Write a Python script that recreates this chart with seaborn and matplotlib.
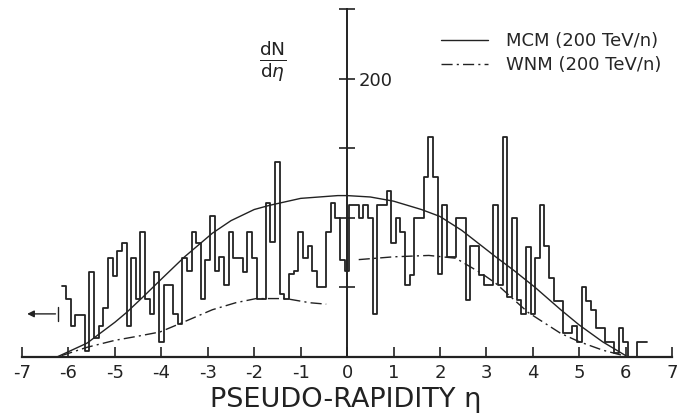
import numpy as np
import pandas as pd
import matplotlib
matplotlib.use("Agg")
import matplotlib.pyplot as plt
import seaborn as sns
from matplotlib.lines import Line2D

sns.set_style("white")
plt.rcParams['font.family'] = ['DejaVu Sans']
plt.rcParams['axes.unicode_minus'] = False

# ---------------- data ----------------
bin_start = -6.15
bin_width = 0.1
counts = [51, 42, 22, 30, 30, 4, 61, 14, 22, 35,
          71, 58, 76, 82, 22, 71, 42, 90, 42, 31,
          61, 11, 52, 52, 31, 24, 71, 62, 90, 82,
          42, 70, 101, 62, 72, 52, 90, 71, 71, 61,
          90, 71, 42, 42, 111, 83, 140, 45, 42, 60,
          62, 90, 71, 80, 62, 50, 50, 90, 111, 100,
          70, 62,
          109, 109, 100, 109, 100, 31, 109, 109, 119, 82,
          100, 90, 52, 59, 100, 100, 129, 158, 129, 60,
          109, 72, 72, 100, 100, 41, 80, 80, 59, 52,
          52, 109, 52, 158, 43, 100, 41, 31, 79, 31,
          71, 109, 80, 57, 40, 40, 17, 17, 22, 11,
          50, 40, 34, 21, 21, 11, 11, 3, 21, 11,
          0, 0, 11, 11]

mcm_eta = [-6.25, -5.6, -5.0, -4.75, -4.4, -4.0, -3.5, -2.9, -2.5, -2.0, -1.67,
           -1.0, -0.2, 0.0, 0.5, 1.0, 1.6, 2.0, 2.47, 3.2, 3.6, 4.05, 4.6,
           5.0, 5.5, 6.0]
mcm_val = [0, 10, 25, 32, 43, 56, 72, 89, 98, 106, 109,
           114, 116, 116, 115, 112, 106, 101, 91, 72, 62, 50, 34,
           23, 11, 1]

wnm_left_eta = [-6.15, -5.6, -5.0, -4.5, -4.03, -3.6, -2.9, -2.4, -1.96, -1.32, -0.8, -0.45]
wnm_left_val = [1, 7, 12, 15, 18, 24, 34, 39, 42, 42, 39, 38]
wnm_right_eta = [0.25, 1.0, 1.76, 2.34, 2.9, 3.2, 3.9, 4.6, 5.0, 5.5, 5.95]
wnm_right_val = [70, 72, 73, 71, 60, 53, 32, 17, 11, 5, 1]

overflow_level = 31
overflow_from = -6.22
overflow_to = -6.95

x_ticks = [-7, -6, -5, -4, -3, -2, -1, 0, 1, 2, 3, 4, 5, 6, 7]
y_ticks = [50, 100, 150, 200, 250]
y_tick_labels = ['', '', '', '200', '']
legend_labels = ['MCM (200 TeV/n)', 'WNM (200 TeV/n)']

# ---------------- figure ----------------
fig = plt.figure(figsize=(6.77, 4.18), dpi=100)
ax = fig.add_axes([0.0257, 0.1392, 0.974, 0.859])

edges = [bin_start + bin_width * i for i in range(len(counts) + 1)]
centers = [(edges[i] + edges[i + 1]) / 2 for i in range(len(counts))]
hist_df = pd.DataFrame({'eta': centers, 'n': counts})
ink = '#222222'

sns.histplot(data=hist_df, x='eta', weights='n', bins=edges, element='step', fill=False,
             color=ink, linewidth=1.3, ax=ax)

wnm_dash = (8, 3, 1.5, 3)
sns.lineplot(x=mcm_eta, y=mcm_val, color=ink, linewidth=1.0, ax=ax)
sns.lineplot(x=wnm_left_eta, y=wnm_left_val, color=ink, linewidth=1.0, ax=ax)
ax.lines[-1].set_dashes(wnm_dash)
sns.lineplot(x=wnm_right_eta, y=wnm_right_val, color=ink, linewidth=1.0, ax=ax)
ax.lines[-1].set_dashes(wnm_dash)

# overflow arrow
ax.annotate('', xy=(overflow_to, overflow_level), xytext=(overflow_from, overflow_level),
            arrowprops=dict(arrowstyle='-|>', color=ink, lw=1.0, mutation_scale=10))
ax.plot([overflow_from, overflow_from], [overflow_level - 5, overflow_level + 5],
        color=ink, lw=1.0)

# axes styling
ax.set_xlim(-7.1, 7.1)
ax.set_ylim(-2, 256)
ax.spines['top'].set_visible(False)
ax.spines['left'].set_visible(False)
ax.spines['bottom'].set_position(('data', 0))
ax.spines['bottom'].set_bounds(-7, 7)
ax.spines['bottom'].set_linewidth(1.6)
ax.spines['bottom'].set_color(ink)
ax.spines['right'].set_position(('data', 0))
ax.spines['right'].set_bounds(0, 250)
ax.spines['right'].set_linewidth(1.4)
ax.spines['right'].set_color(ink)
ax.yaxis.tick_right()
ax.set_xticks(x_ticks)
ax.set_xticklabels([str(t) for t in x_ticks])
ax.set_yticks(y_ticks)
ax.set_yticklabels(y_tick_labels)
ax.tick_params(axis='x', direction='in', length=7, width=1.2, colors=ink,
               labelsize=13, pad=5, bottom=True)
ax.tick_params(axis='y', direction='inout', length=11, width=1.2, colors=ink,
               labelsize=13, pad=3, right=True, left=False)
ax.set_xlabel('')
ax.set_ylabel('')

fig.text(0.51, 0.043, 'PSEUDO-RAPIDITY η', ha='center', va='center',
         fontsize=19.5, color=ink)
ax.text(-1.6, 212, r'$\frac{\mathrm{dN}}{\mathrm{d}\eta}$', ha='center', va='center',
        fontsize=19, color=ink)

handles = [Line2D([], [], color=ink, lw=1.0),
           Line2D([], [], color=ink, lw=1.0, dashes=wnm_dash)]
ax.legend(handles, legend_labels, loc='upper left', bbox_to_anchor=(0.638, 0.945),
          bbox_transform=fig.transFigure, frameon=False, fontsize=13,
          handlelength=2.6, handletextpad=1.0, borderpad=0, labelspacing=0.35)

fig.savefig('out.png', dpi=100)
